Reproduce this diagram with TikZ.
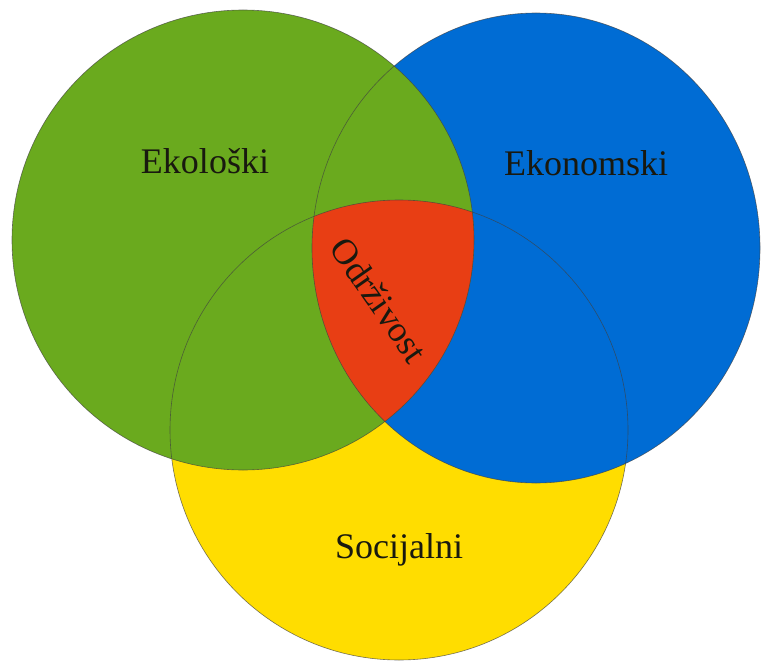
\documentclass[tikz,border=0pt]{standalone}
\usepackage{fontspec}
\setmainfont{Liberation Serif}
\definecolor{cgreen}{RGB}{106,170,30}
\definecolor{cblue}{RGB}{0,108,212}
\definecolor{cyellow}{RGB}{255,221,0}
\definecolor{cred}{RGB}{232,62,20}
\definecolor{ctext}{RGB}{25,25,15}
\tikzset{
  rim/.style={draw=black!75, line width=0.6bp, draw opacity=0.7},
  lab/.style={font=\fontsize{36bp}{40bp}\selectfont, text=ctext, inner sep=0pt},
}
\begin{document}
\begin{tikzpicture}[x=1bp,y=-1bp]
\useasboundingbox (0,0) rectangle (761,661);
\fill[white] (0,0) rectangle (761,661);
% fills
\fill[cyellow] (399,430) ellipse [x radius=229bp, y radius=230bp];
\fill[cblue] (536,248) ellipse [x radius=224bp, y radius=235bp];
\fill[cgreen] (243,240) ellipse [x radius=231bp, y radius=230bp];
\begin{scope}
  \clip (243,240) ellipse [x radius=231bp, y radius=230bp];
  \clip (536,248) ellipse [x radius=224bp, y radius=235bp];
  \fill[cred] (399,430) ellipse [x radius=229bp, y radius=230bp];
\end{scope}
% outlines
\draw[rim] (399,430) ellipse [x radius=229bp, y radius=230bp];
\draw[rim] (536,248) ellipse [x radius=224bp, y radius=235bp];
\draw[rim] (243,240) ellipse [x radius=231bp, y radius=230bp];
% labels
\node[lab, anchor=base] (eko) at (205,173) {Ekološki};
\node[lab, anchor=base] (ekon) at (586,175) {Ekonomski};
\node[lab, anchor=base] (soc) at (399,558) {Socijalni};
\node[lab, anchor=center, rotate=-55] (odr) at (379,300) {Održivost};
\end{tikzpicture}
\end{document}
